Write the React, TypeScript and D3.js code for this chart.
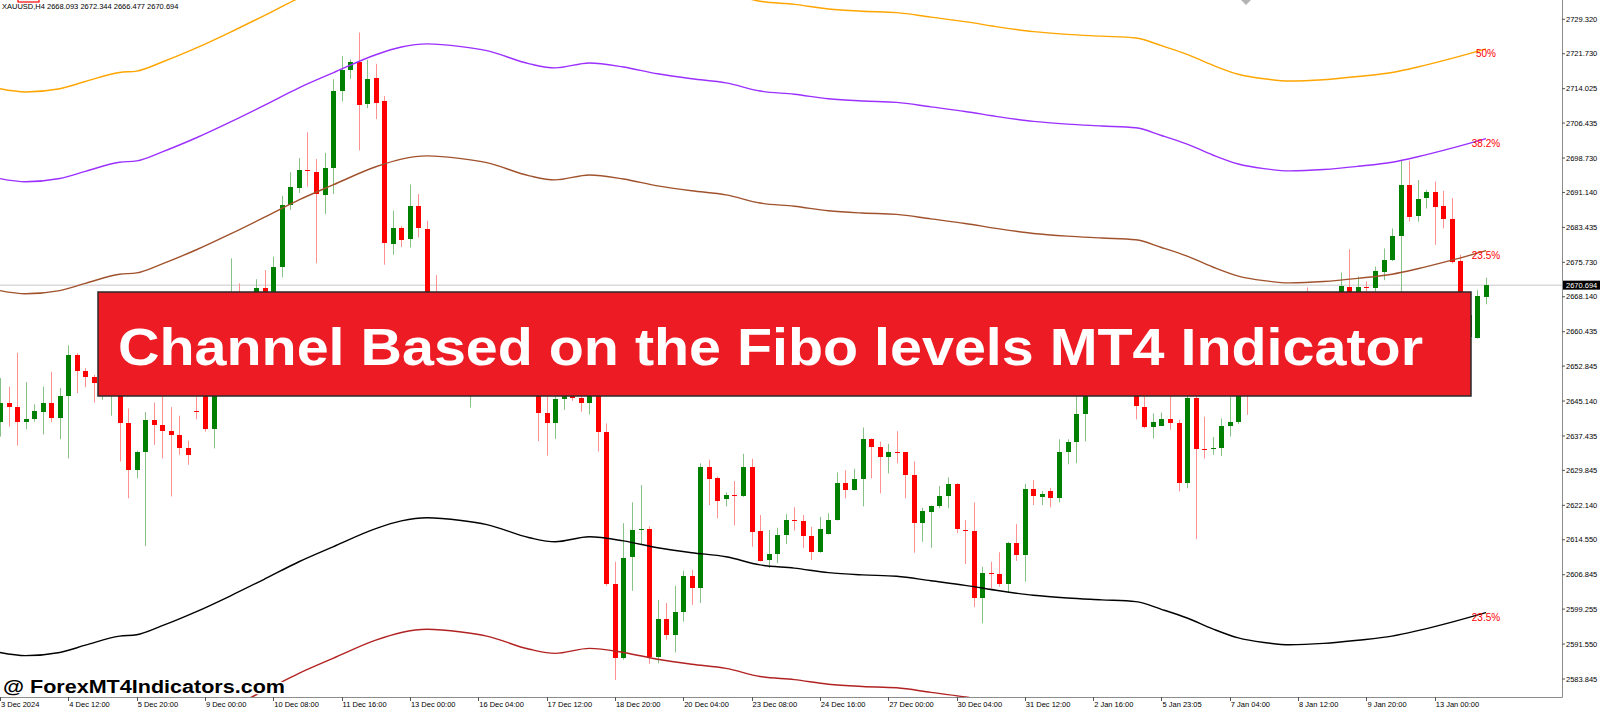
import * as d3 from "d3";

// MT4 style H4 chart of XAUUSD with the "Channel Based on the Fibo levels" indicator

const PLOT_RIGHT = 1562;
const PLOT_BOTTOM = 697;

const PRICE_TICKS = [
  2729.32, 2721.73, 2714.025, 2706.435, 2698.73, 2691.14, 2683.435, 2675.73, 2668.14, 2660.435,
  2652.845, 2645.14, 2637.435, 2629.845, 2622.14, 2614.55, 2606.845, 2599.255, 2591.55, 2583.845,
];

const DATE_LABELS = [
  "3 Dec 2024", "4 Dec 12:00", "5 Dec 20:00", "9 Dec 00:00", "10 Dec 08:00", "11 Dec 16:00",
  "13 Dec 00:00", "16 Dec 04:00", "17 Dec 12:00", "18 Dec 20:00", "20 Dec 04:00", "23 Dec 08:00",
  "24 Dec 16:00", "27 Dec 00:00", "30 Dec 04:00", "31 Dec 12:00", "2 Jan 16:00", "5 Jan 23:05",
  "7 Jan 04:00", "8 Jan 12:00", "9 Jan 20:00", "13 Jan 00:00",
];
const DATE_BARS = [0, 8, 16, 24, 32, 40, 48, 56, 64, 72, 80, 88, 96, 104, 112, 120, 128, 136, 144, 152, 160, 168];

const LAST_PRICE = 2670.694;
const HEADER = "XAUUSD,H4  2668.093 2672.344 2666.477 2670.694";

// bar index of every sample
const LEVEL_BARS = [
  0, 3, 7, 10, 14, 16, 19, 23, 27, 31, 35, 39, 44, 47, 50, 54, 57, 62, 65, 69, 73, 77, 81, 85,
  89, 93, 97, 101, 105, 109, 113, 117, 121, 125, 129, 133, 136, 139, 142, 145, 148, 151, 155,
  159, 163, 166, 170, 174,
];
const LEVEL_50 = [
  2714.0, 2713.3, 2714.0, 2715.6, 2717.6, 2717.9, 2719.9, 2723.0, 2726.5, 2730.2, 2734.0, 2737.3,
  2741.3, 2743.0, 2743.7, 2743.1, 2742.2, 2739.3, 2738.4, 2739.5, 2738.6, 2737.1, 2736.0, 2735.1,
  2733.3, 2732.6, 2731.6, 2731.1, 2730.8, 2729.8, 2728.8, 2727.6, 2726.6, 2726.0, 2725.6, 2725.2,
  2723.5, 2721.6, 2719.2, 2717.2, 2716.2, 2715.7, 2716.0, 2716.7, 2717.6, 2718.8, 2720.7, 2722.8,
];
const LEVEL_382 = [
  2694.2, 2693.5, 2694.2, 2695.8, 2697.8, 2698.1, 2700.1, 2703.2, 2706.7, 2710.4, 2714.2, 2717.5,
  2721.5, 2723.2, 2723.9, 2723.3, 2722.4, 2719.5, 2718.6, 2719.7, 2718.8, 2717.3, 2716.2, 2715.3,
  2713.5, 2712.8, 2711.8, 2711.3, 2711.0, 2710.0, 2709.0, 2707.8, 2706.8, 2706.2, 2705.8, 2705.4,
  2703.7, 2701.8, 2699.4, 2697.4, 2696.4, 2695.9, 2696.2, 2696.9, 2697.8, 2699.0, 2700.9, 2703.0,
];
const LEVEL_235_UP = [
  2669.5, 2668.8, 2669.5, 2671.1, 2673.1, 2673.4, 2675.4, 2678.5, 2682.0, 2685.7, 2689.5, 2692.8,
  2696.8, 2698.5, 2699.2, 2698.6, 2697.7, 2694.8, 2693.9, 2695.0, 2694.1, 2692.6, 2691.5, 2690.6,
  2688.8, 2688.1, 2687.1, 2686.6, 2686.3, 2685.3, 2684.3, 2683.1, 2682.1, 2681.5, 2681.1, 2680.7,
  2679.0, 2677.1, 2674.7, 2672.7, 2671.7, 2671.2, 2671.5, 2672.2, 2673.1, 2674.3, 2676.2, 2678.3,
];
const LEVEL_235_DN = [
  2589.7, 2589.0, 2589.7, 2591.3, 2593.3, 2593.6, 2595.6, 2598.7, 2602.2, 2605.9, 2609.7, 2613.0,
  2617.0, 2618.7, 2619.4, 2618.8, 2617.9, 2615.0, 2614.1, 2615.2, 2614.3, 2612.8, 2611.7, 2610.8,
  2609.0, 2608.3, 2607.3, 2606.8, 2606.5, 2605.5, 2604.5, 2603.3, 2602.3, 2601.7, 2601.3, 2600.9,
  2599.2, 2597.3, 2594.9, 2592.9, 2591.9, 2591.4, 2591.7, 2592.4, 2593.3, 2594.5, 2596.4, 2598.5,
];
const LEVEL_LOW = [
  2565.1, 2564.4, 2565.1, 2566.7, 2568.7, 2569.0, 2571.0, 2574.1, 2577.6, 2581.3, 2585.1, 2588.4,
  2592.4, 2594.1, 2594.8, 2594.2, 2593.3, 2590.4, 2589.5, 2590.6, 2589.7, 2588.2, 2587.1, 2586.2,
  2584.4, 2583.7, 2582.7, 2582.2, 2581.9, 2580.9, 2579.9, 2578.7, 2577.7, 2577.1, 2576.7, 2576.3,
  2574.6, 2572.7, 2570.3, 2568.3, 2567.3, 2566.8, 2567.1, 2567.8, 2568.7, 2569.9, 2571.8, 2573.9,
];

// [open, high, low, close]
const CANDLES: [number, number, number, number][] = [
  [2640.6, 2650.2, 2637.3, 2644.6], [2644.8, 2648.3, 2639.5, 2643.8], [2643.8, 2655.8, 2635.3, 2640.6],
  [2640.5, 2649.3, 2638.9, 2641.1], [2641.1, 2644.4, 2640.6, 2642.9], [2642.8, 2648.3, 2637.8, 2644.6],
  [2644.6, 2651.6, 2640.5, 2641.5], [2641.5, 2648.0, 2636.7, 2646.3], [2646.3, 2657.4, 2632.5, 2655.2],
  [2655.2, 2655.7, 2646.9, 2651.8], [2651.8, 2652.4, 2648.2, 2650.5], [2650.5, 2650.9, 2644.8, 2649.1],
  [2649.5, 2656.0, 2645.4, 2654.0], [2653.5, 2659.0, 2641.9, 2657.0], [2656.0, 2658.0, 2631.8, 2640.4],
  [2640.4, 2643.5, 2623.7, 2629.9], [2629.9, 2634.2, 2628.1, 2634.0], [2634.0, 2642.7, 2613.2, 2641.0],
  [2641.0, 2644.8, 2635.5, 2639.8], [2639.8, 2646.1, 2632.5, 2638.6], [2638.6, 2643.8, 2624.1, 2637.7],
  [2637.7, 2641.9, 2633.3, 2634.7], [2634.7, 2636.4, 2631.1, 2633.3], [2643.0, 2646.1, 2641.1, 2642.9],
  [2648.0, 2650.0, 2638.4, 2639.0], [2639.0, 2654.0, 2634.7, 2652.0], [2652.0, 2660.0, 2650.0, 2658.0],
  [2658.0, 2676.6, 2655.0, 2662.0], [2662.0, 2671.1, 2656.0, 2659.0], [2659.0, 2667.0, 2657.0, 2665.0],
  [2665.0, 2672.0, 2663.0, 2670.0], [2670.0, 2674.0, 2664.0, 2666.0], [2666.0, 2677.0, 2664.5, 2674.6],
  [2674.6, 2690.4, 2672.4, 2688.4], [2688.4, 2695.6, 2687.3, 2692.3], [2692.1, 2698.7, 2691.0, 2696.1],
  [2696.0, 2704.4, 2692.4, 2695.9], [2695.7, 2698.5, 2675.5, 2690.8], [2690.6, 2699.9, 2686.4, 2696.6],
  [2696.6, 2716.1, 2690.8, 2713.4], [2713.4, 2721.2, 2711.2, 2718.1], [2718.1, 2720.5, 2716.2, 2720.0],
  [2720.0, 2726.4, 2700.4, 2710.4], [2710.6, 2720.4, 2709.7, 2716.2], [2716.3, 2719.5, 2707.3, 2710.9],
  [2711.2, 2712.4, 2675.2, 2679.9], [2679.7, 2687.1, 2677.4, 2683.2], [2683.4, 2683.7, 2679.1, 2680.7],
  [2680.8, 2692.9, 2679.0, 2688.2], [2688.2, 2690.8, 2681.2, 2683.4], [2683.1, 2684.9, 2662.0, 2664.0],
  [2664.0, 2672.9, 2657.0, 2660.0], [2660.0, 2663.0, 2655.0, 2657.0], [2657.0, 2661.0, 2654.0, 2659.0],
  [2659.0, 2662.0, 2652.0, 2654.0], [2654.0, 2658.0, 2643.7, 2656.0], [2656.0, 2664.0, 2653.0, 2662.0],
  [2662.0, 2666.0, 2657.0, 2659.0], [2659.0, 2661.0, 2652.0, 2654.0], [2654.0, 2659.0, 2651.0, 2657.0],
  [2657.0, 2660.0, 2652.0, 2653.0], [2653.0, 2657.0, 2650.0, 2655.0], [2655.0, 2658.0, 2649.0, 2651.0],
  [2651.0, 2654.0, 2636.3, 2642.4], [2642.4, 2646.3, 2633.1, 2640.2], [2640.4, 2647.0, 2636.8, 2645.6],
  [2645.6, 2649.0, 2643.2, 2647.5], [2647.5, 2649.0, 2645.2, 2645.9], [2645.9, 2647.5, 2642.8, 2644.8],
  [2644.6, 2650.0, 2642.2, 2648.0], [2648.0, 2650.0, 2634.0, 2638.4], [2638.4, 2640.2, 2604.4, 2604.8],
  [2604.8, 2609.7, 2583.6, 2588.4], [2588.4, 2618.2, 2588.1, 2610.6], [2610.7, 2622.8, 2603.3, 2616.7],
  [2616.7, 2626.6, 2613.4, 2616.9], [2616.9, 2617.5, 2587.2, 2588.8], [2588.6, 2601.3, 2587.3, 2597.0],
  [2597.0, 2600.6, 2592.5, 2593.6], [2593.6, 2604.4, 2589.7, 2598.7], [2598.6, 2607.7, 2596.5, 2606.6],
  [2606.6, 2607.9, 2600.2, 2603.9], [2603.9, 2631.4, 2600.6, 2630.5], [2630.5, 2632.2, 2622.2, 2628.0],
  [2628.1, 2628.5, 2619.3, 2623.0], [2623.6, 2625.0, 2621.9, 2624.4], [2624.5, 2627.5, 2617.7, 2624.3],
  [2624.1, 2633.5, 2624.0, 2630.5], [2630.5, 2632.4, 2613.0, 2616.3], [2616.5, 2620.0, 2609.8, 2609.9],
  [2610.0, 2616.7, 2608.3, 2611.4], [2611.4, 2617.2, 2609.4, 2615.6], [2615.6, 2620.2, 2613.6, 2618.9],
  [2618.8, 2621.7, 2616.6, 2618.6], [2618.7, 2620.0, 2612.7, 2615.4], [2615.4, 2617.4, 2610.1, 2611.9],
  [2611.8, 2619.6, 2611.7, 2616.9], [2615.8, 2620.4, 2615.7, 2618.9], [2618.9, 2629.4, 2618.8, 2627.0],
  [2627.0, 2629.9, 2623.7, 2625.5], [2625.5, 2630.2, 2625.4, 2628.0], [2628.0, 2639.3, 2621.9, 2636.7],
  [2636.7, 2636.9, 2628.1, 2635.1], [2635.1, 2636.2, 2624.8, 2632.9], [2632.9, 2635.7, 2629.2, 2633.9],
  [2634.0, 2638.5, 2631.4, 2633.8], [2633.8, 2633.9, 2623.7, 2628.8], [2628.8, 2631.8, 2611.7, 2618.2],
  [2618.3, 2621.6, 2614.1, 2620.9], [2620.7, 2622.1, 2612.8, 2621.9], [2622.0, 2626.4, 2621.5, 2624.2],
  [2624.2, 2628.3, 2621.5, 2626.8], [2626.8, 2627.0, 2616.0, 2616.9], [2616.8, 2618.9, 2609.2, 2616.6],
  [2616.5, 2622.8, 2599.7, 2601.8], [2601.8, 2608.6, 2596.1, 2607.3], [2607.3, 2609.7, 2603.9, 2607.1],
  [2607.0, 2611.8, 2604.2, 2604.8], [2604.8, 2614.1, 2602.8, 2613.9], [2613.9, 2618.0, 2609.9, 2611.2],
  [2611.2, 2626.9, 2605.3, 2625.8], [2625.8, 2627.7, 2622.2, 2624.1], [2623.9, 2625.3, 2622.2, 2624.6],
  [2625.3, 2626.0, 2621.7, 2623.8], [2623.8, 2636.7, 2622.8, 2633.9], [2633.9, 2636.7, 2631.2, 2636.1],
  [2636.1, 2647.0, 2631.4, 2642.2], [2642.2, 2653.0, 2636.2, 2650.0], [2650.0, 2657.0, 2648.0, 2655.0],
  [2655.0, 2661.0, 2652.0, 2659.0], [2659.0, 2665.0, 2656.0, 2662.0], [2662.0, 2666.0, 2655.0, 2657.0],
  [2657.0, 2662.0, 2649.0, 2651.0], [2650.0, 2653.0, 2641.1, 2644.1], [2643.9, 2646.1, 2639.1, 2639.5],
  [2639.5, 2642.4, 2636.9, 2640.6], [2639.7, 2642.6, 2639.6, 2641.2], [2641.2, 2648.0, 2638.8, 2640.4],
  [2640.4, 2641.0, 2625.2, 2627.0], [2627.0, 2648.0, 2625.9, 2645.8], [2645.8, 2648.0, 2614.7, 2634.5],
  [2634.6, 2641.7, 2632.5, 2634.4], [2634.6, 2637.2, 2633.3, 2634.8], [2634.7, 2641.3, 2633.0, 2639.6],
  [2639.6, 2646.1, 2637.3, 2640.6], [2640.6, 2650.0, 2640.1, 2648.0], [2650.0, 2652.0, 2642.1, 2647.5],
  [2647.5, 2655.0, 2646.8, 2653.0], [2653.0, 2660.0, 2651.0, 2658.0], [2658.0, 2662.0, 2654.0, 2656.0],
  [2656.0, 2663.0, 2653.0, 2661.0], [2661.0, 2666.0, 2658.0, 2664.0], [2664.0, 2667.0, 2659.0, 2661.0],
  [2665.0, 2670.2, 2659.0, 2662.0], [2662.0, 2666.0, 2658.0, 2665.0], [2665.0, 2668.0, 2661.0, 2663.0],
  [2663.0, 2667.0, 2660.0, 2666.0], [2666.0, 2673.5, 2664.0, 2670.4], [2670.2, 2678.6, 2665.0, 2667.0],
  [2667.0, 2672.6, 2665.0, 2670.2], [2670.2, 2671.5, 2667.0, 2670.0], [2670.0, 2674.8, 2668.0, 2673.8],
  [2673.7, 2678.8, 2671.8, 2676.3], [2676.3, 2683.2, 2676.0, 2681.5], [2681.5, 2698.3, 2667.0, 2692.8],
  [2692.8, 2698.1, 2684.7, 2685.8], [2686.0, 2693.9, 2684.7, 2689.7], [2689.9, 2691.7, 2687.6, 2691.3],
  [2691.3, 2693.5, 2679.6, 2688.0], [2688.2, 2691.5, 2683.2, 2685.2], [2685.3, 2689.9, 2675.5, 2675.9],
  [2676.0, 2677.4, 2659.0, 2660.0], [2659.3, 2665.0, 2657.0, 2664.1], [2659.0, 2669.6, 2658.9, 2668.3],
  [2668.093, 2672.344, 2666.477, 2670.694],
];

const LEVELS = [
  { values: LEVEL_50, color: "#ffa500", label: "50%" },
  { values: LEVEL_382, color: "#9b30ff", label: "38.2%" },
  { values: LEVEL_235_UP, color: "#a0522d", label: "23.5%" },
  { values: LEVEL_235_DN, color: "#000000", label: "23.5%" },
  { values: LEVEL_LOW, color: "#b22222", label: "" },
];

const FONT = "'Liberation Sans', Arial, sans-serif";

export default function App() {
  const x = d3.scaleLinear().domain([0, 174]).range([0, 1486]);
  const y = d3.scaleLinear().domain([2729.32, 2583.845]).range([19.3, 679]);

  const line = d3
    .line<number>()
    .x((_, i) => x(LEVEL_BARS[i]))
    .y((d) => y(d))
    .curve(d3.curveMonotoneX);

  const lastBar = LEVEL_BARS[LEVEL_BARS.length - 1];
  const lastY = y(LAST_PRICE);

  return (
    <svg
      width={1600}
      height={710}
      style={{ position: "absolute", left: 0, top: 0, background: "#fff" }}
      fontFamily={FONT}
    >
      <defs>
        <clipPath id="plot">
          <rect x={0} y={0} width={PLOT_RIGHT} height={PLOT_BOTTOM} />
        </clipPath>
      </defs>
      <rect x={0} y={0} width={1600} height={710} fill="#fff" />

      <g clipPath="url(#plot)">
        {/* last price line */}
        <line x1={0} x2={PLOT_RIGHT} y1={lastY} y2={lastY} stroke="#c8c8c8" strokeWidth={1} />

        {/* candles */}
        {CANDLES.map(([o, h, l, c], i) => {
          const cx = Math.round(x(i)) + 0.5;
          const up = c >= o;
          const top = y(Math.max(o, c));
          const bh = Math.max(1, y(Math.min(o, c)) - top);
          return (
            <g key={i}>
              <line
                x1={cx}
                x2={cx}
                y1={y(h)}
                y2={y(l)}
                stroke={up ? "#86c286" : "#ff9090"}
                strokeWidth={1}
              />
              <rect
                x={cx - 2.5}
                y={top}
                width={5}
                height={bh}
                fill={up ? "#008000" : "#ff0000"}
                shapeRendering="crispEdges"
              />
            </g>
          );
        })}

        {/* channel levels */}
        {LEVELS.map((lv, k) => (
          <path key={k} d={line(lv.values) ?? ""} fill="none" stroke={lv.color} strokeWidth={1.4} />
        ))}
        {LEVELS.filter((lv) => lv.label).map((lv, k) => (
          <text
            key={k}
            x={x(lastBar)}
            y={y(lv.values[lv.values.length - 1]) + 8}
            textAnchor="middle"
            fontSize={10}
            fill="#ff0000"
          >
            {lv.label}
          </text>
        ))}
      </g>

      {/* header */}
      <text x={2} y={9} fontSize={7.5} fill="#000">
        {HEADER}
      </text>
      <rect x={18} y={-4} width={21} height={6} fill="none" stroke="#ff0000" strokeWidth={1.2} />
      <path d="M1241,0 L1251,0 L1246,5 Z" fill="#b4b4b4" />

      {/* axes */}
      <line x1={PLOT_RIGHT + 0.5} x2={PLOT_RIGHT + 0.5} y1={0} y2={PLOT_BOTTOM + 0.5} stroke="#8c8c8c" />
      <line x1={0} x2={PLOT_RIGHT + 0.5} y1={PLOT_BOTTOM + 0.5} y2={PLOT_BOTTOM + 0.5} stroke="#8c8c8c" />
      {PRICE_TICKS.map((p) => (
        <g key={p}>
          <line x1={PLOT_RIGHT} x2={PLOT_RIGHT + 3} y1={y(p)} y2={y(p)} stroke="#555" />
          <text x={PLOT_RIGHT + 4} y={y(p) + 2.7} fontSize={7.5} fill="#000">
            {p.toFixed(3)}
          </text>
        </g>
      ))}
      <rect x={PLOT_RIGHT + 1} y={lastY - 4.5} width={38} height={9} fill="#000" />
      <text x={PLOT_RIGHT + 4} y={lastY + 2.7} fontSize={7.5} fill="#fff">
        {LAST_PRICE.toFixed(3)}
      </text>
      {DATE_BARS.map((b, k) => (
        <g key={b}>
          <line
            x1={Math.round(x(b)) + 0.5}
            x2={Math.round(x(b)) + 0.5}
            y1={PLOT_BOTTOM}
            y2={PLOT_BOTTOM + 4}
            stroke="#555"
          />
          <text x={x(b) + 1} y={706.5} fontSize={7.5} fill="#000">
            {DATE_LABELS[k]}
          </text>
        </g>
      ))}

      {/* title banner */}
      <rect x={98} y={292} width={1373} height={104} fill="#ed1c24" stroke="#2a2a2a" strokeWidth={1.5} />
      <text
        x={118}
        y={365}
        fontSize={52}
        fontWeight="bold"
        fill="#fff"
        textLength={1305}
        lengthAdjust="spacingAndGlyphs"
      >
        Channel Based on the Fibo levels MT4 Indicator
      </text>

      {/* watermark */}
      <text
        x={3}
        y={693}
        fontSize={18}
        fontWeight="bold"
        fill="#000"
        stroke="#fff"
        strokeWidth={3}
        paintOrder="stroke"
        textLength={282}
        lengthAdjust="spacingAndGlyphs"
      >
        @ ForexMT4Indicators.com
      </text>
    </svg>
  );
}
